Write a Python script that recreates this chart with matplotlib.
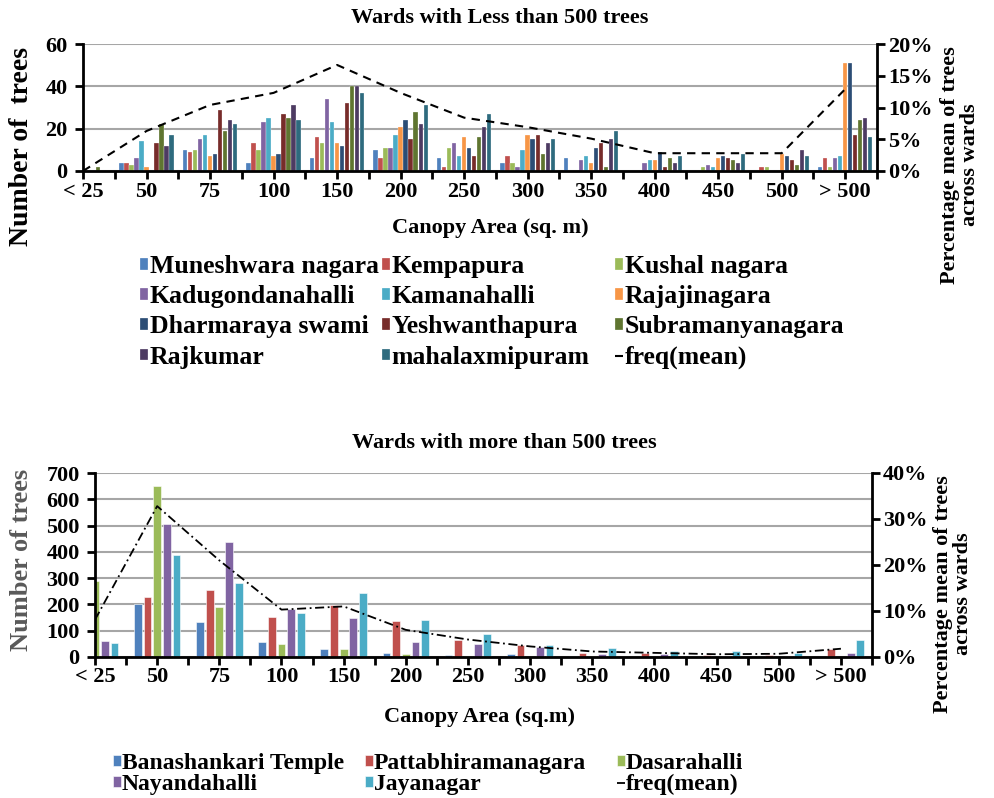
import matplotlib
matplotlib.use("Agg")
import matplotlib.pyplot as plt
import numpy as np

plt.rcParams['font.family'] = ['Liberation Serif', 'DejaVu Serif']
plt.rcParams['font.weight'] = 'bold'

# categories (canopy area classes)
categories = ['< 25', '50', '75', '100', '150', '200', '250', '300',
              '350', '400', '450', '500', '> 500']

# wards with less than 500 trees (number of trees per class)
muneshwara = [0, 4, 10, 4, 6, 10, 6, 4, 6, 0, 0, 0, 2]
kempapura = [0, 4, 9, 13, 16, 6, 2, 7, 0, 0, 0, 2, 6]
kushal = [0, 3, 10, 10, 13, 11, 11, 4, 0, 0, 2, 2, 2]
kadugondanahalli = [0, 6, 15, 23, 34, 11, 13, 2, 5, 4, 3, 0, 6]
kamanahalli = [0, 14, 17, 25, 23, 17, 7, 10, 7, 5, 2, 0, 7]
rajajinagara = [0, 2, 7, 7, 13, 21, 16, 17, 4, 5, 6, 8, 51]
dharmaraya = [0, 0, 8, 8, 12, 24, 11, 15, 11, 9, 7, 7, 51]
yeshwanthapura = [0, 13, 29, 27, 32, 15, 7, 17, 13, 2, 6, 5, 17]
subramanyanagara = [2, 22, 19, 25, 40, 28, 16, 8, 2, 6, 5, 3, 24]
rajkumar = [0, 12, 24, 31, 40, 22, 21, 13, 15, 4, 4, 10, 25]
mahalaxmipuram = [0, 17, 22, 24, 37, 31, 27, 15, 19, 7, 8, 7, 16]
freq_small = [0, 6.3, 10.4, 12.3, 16.7, 12.3, 8.4, 6.9, 5.1, 2.8, 2.8, 2.8, 12.9]

small_names = ['Muneshwara nagara', 'Kempapura', 'Kushal nagara',
               'Kadugondanahalli', 'Kamanahalli', 'Rajajinagara',
               'Dharmaraya swami', 'Yeshwanthapura', 'Subramanyanagara',
               'Rajkumar', 'mahalaxmipuram']
small_data = [muneshwara, kempapura, kushal, kadugondanahalli, kamanahalli,
              rajajinagara, dharmaraya, yeshwanthapura, subramanyanagara,
              rajkumar, mahalaxmipuram]
small_colors = ['#4F81BD', '#C0504D', '#9BBB59', '#8064A2', '#4BACC6',
                '#F79646', '#2C4D75', '#772C2A', '#5F7530', '#4D3B62',
                '#2E6B7E']

# wards with more than 500 trees
banashankari = [0, 202, 133, 58, 30, 15, 8, 11, 3, 0, 0, 0, 0]
pattabhi = [0, 229, 253, 154, 196, 137, 63, 47, 16, 16, 6, 8, 29]
dasarahalli = [289, 651, 190, 51, 30, 10, 4, 0, 3, 0, 0, 0, 0]
nayandahalli = [59, 506, 437, 183, 148, 58, 51, 38, 13, 10, 3, 4, 15]
jayanagar = [52, 388, 283, 166, 245, 139, 86, 46, 35, 23, 24, 14, 63]
freq_large = [8.1, 32.8, 21.0, 10.3, 11.0, 5.9, 3.8, 2.3, 1.2, 0.9, 0.6, 0.7, 1.8]

large_names = ['Banashankari Temple', 'Pattabhiramanagara', 'Dasarahalli',
               'Nayandahalli', 'Jayanagar']
large_data = [banashankari, pattabhi, dasarahalli, nayandahalli, jayanagar]
large_colors = ['#4F81BD', '#C0504D', '#9BBB59', '#8064A2', '#4BACC6']

W, H = 994, 798
fig = plt.figure(figsize=(W / 100, H / 100), dpi=100)
x = np.arange(len(categories))


def style_axes(ax, axr, yticks, rticks, xpad):
    ax.set_xlim(0, 12.5)
    ax.set_xticks(x)
    ax.set_xticklabels(categories, fontsize=16)
    ax.set_xticks(np.arange(0.5, 12.6, 1), minor=True)
    ax.tick_params(axis='x', which='both', direction='out', length=6, width=2, pad=xpad)
    ax.set_yticks(yticks)
    ax.set_ylim(yticks[0], yticks[-1])
    ax.tick_params(axis='y', direction='out', length=6, width=2, labelsize=16, pad=5)
    ax.yaxis.grid(True, color='#A6A6A6', linewidth=1.5)
    ax.set_axisbelow(True)
    for s in ['top', 'right']:
        ax.spines[s].set_visible(False)
    for s in ['left', 'bottom']:
        ax.spines[s].set_linewidth(2)
    axr.set_ylim(rticks[0], rticks[-1])
    axr.set_yticks(rticks)
    axr.set_yticklabels(['%d%%' % t for t in rticks])
    axr.tick_params(axis='y', direction='out', length=6, width=2, labelsize=16, pad=2)
    for s in ['top', 'left', 'bottom']:
        axr.spines[s].set_visible(False)
    axr.spines['right'].set_linewidth(2)


# ---- top chart ----
ax1 = fig.add_axes([83 / W, 1 - 171 / H, 794 / W, 127 / H])
ax1r = ax1.twinx()
step = 0.079
bars_small = []
for i, (vals, c) in enumerate(zip(small_data, small_colors)):
    b = ax1.bar(x + (i - 5) * step, vals, width=0.068, color=c,
                edgecolor='white', linewidth=0.2, label=small_names[i])
    bars_small.append(b)
line1, = ax1r.plot(x, freq_small, color='black', linestyle=(0, (4, 3)),
                   linewidth=1.5, label='freq(mean)')
style_axes(ax1, ax1r, [0, 20, 40, 60], [0, 5, 10, 15, 20], 2)

# ---- bottom chart ----
ax2 = fig.add_axes([95 / W, 1 - 657 / H, 777 / W, 184 / H])
ax2r = ax2.twinx()
step2 = 0.156
bars_large = []
for i, (vals, c) in enumerate(zip(large_data, large_colors)):
    b = ax2.bar(x + (i - 2) * step2, vals, width=0.125, color=c,
                edgecolor='white', linewidth=0.4, label=large_names[i])
    bars_large.append(b)
line2, = ax2r.plot(x, freq_large, color='black', linestyle=(0, (5, 2, 1, 2)),
                   linewidth=1.3, label='freq(mean)')
style_axes(ax2, ax2r, list(range(0, 701, 100)), [0, 10, 20, 30, 40], 1)

# ---- texts ----
def ftext(px, py, s, **kw):
    fig.text(px / W, 1 - py / H, s, ha='center', va='center', **kw)


ftext(500, 18, 'Wards with Less than 500 trees', fontsize=16)
ftext(490, 228, 'Canopy Area (sq. m)', fontsize=16)
ftext(22, 147, 'Number of  trees', fontsize=20, rotation=90)
ftext(960, 165, 'Percentage mean of trees\nacross wards', fontsize=16,
      rotation=90, linespacing=1.0)

ftext(504, 443, 'Wards with more than 500 trees', fontsize=16)
ftext(480, 717, 'Canopy Area (sq.m)', fontsize=16)
ftext(22, 560, 'Number of trees', fontsize=19, rotation=90, color='#595959')
ftext(953, 594, 'Percentage mean of trees\nacross wards', fontsize=16,
      rotation=90, linespacing=1.0)


# ---- legends: one per column, filled row-wise like the original ----
def column_legends(handles, labels, col_x, top_y, size, spacing):
    for c, cx in enumerate(col_x):
        hs = handles[c::3]
        ls = labels[c::3]
        fig.legend(hs, ls, loc='upper left', bbox_to_anchor=(cx / W, 1 - top_y / H),
                   frameon=False, fontsize=size, handlelength=0.32,
                   handleheight=0.32, handletextpad=0.06, labelspacing=spacing,
                   borderpad=0, borderaxespad=0)


column_legends(bars_small + [line1], small_names + ['freq(mean)'],
               [140, 382, 615], 255, 18.5, 0.28)
column_legends(bars_large + [line2], large_names + ['freq(mean)'],
               [113, 365, 617], 753, 17, 0.0)

fig.savefig('out.png', dpi=100)
